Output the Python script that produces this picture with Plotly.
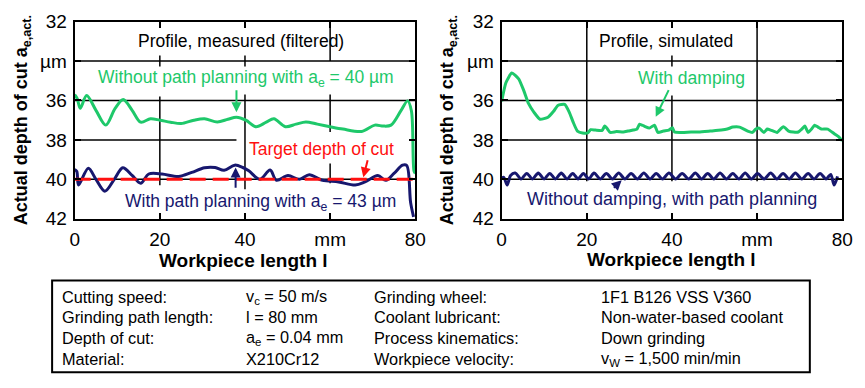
import plotly.graph_objects as go

# ---------------- data ----------------
meas_green_x = [0, 0.6, 1.3, 2.8, 5, 7.3, 9.5, 11.4, 13.5, 15.5, 17.8, 20, 22.5, 25, 28, 30.5, 33.5, 36,
                38, 40.2, 42.6, 45, 46.8, 49.5, 52, 54.3, 57, 60, 63, 67.4, 70.5, 72.5, 74.3, 76.6, 78.2,
                79.1, 79.7, 80]
meas_green_y = [35.7, 35.9, 36.4, 35.75, 36.5, 37.25, 36.4, 35.95, 36.5, 37.1, 36.93, 37.0, 37.1, 37.17,
                37.0, 36.93, 37.09, 36.95, 36.85, 37.0, 37.33, 37.1, 36.93, 37.33, 37.2, 37.09, 37.2,
                37.33, 37.45, 37.57, 37.25, 37.3, 37.25, 36.53, 36.02, 36.53, 39.57, 39.7]

meas_navy_x = [0, 0.5, 0.9, 3.2, 5, 7.1, 9.3, 11.3, 13.5, 15.5, 17.4, 20.5, 24.4, 27.5, 30.5, 33, 35.1,
               37.6, 39.5, 40.9, 43.5, 45.9, 47.4, 50.1, 52.8, 55.1, 58.2, 62, 65.9, 68.2, 71.2, 73.1,
               75, 77.0, 78.0, 78.9, 79.6]
meas_navy_y = [39.5, 39.6, 40.29, 39.44, 40.0, 40.6, 40.0, 39.41, 39.8, 40.2, 39.73, 39.73, 39.86, 39.65,
               39.41, 39.4, 39.54, 39.28, 39.4, 39.57, 40.0, 39.53, 40.05, 39.81, 40.0, 39.77, 40.05,
               40.13, 40.29, 40.13, 39.81, 40.05, 39.7, 39.28, 39.3, 41.17, 41.9]

target_x = [0, 80]
target_y = [40, 40]

sim_green_x = [0, 1.0, 2.4, 4.0, 5.2, 6.3, 7.6, 9.0, 10.9, 12.2, 13.2, 14.8, 15.9, 16.8, 17.8, 19.0,
               20.2, 20.9, 22.0, 23.6, 24.2, 24.7, 25.5, 27.0, 28.6, 29.7, 30.9, 31.8, 32.4, 33.5,
               34.7, 35.9, 36.7, 38.0, 39.3, 40.1, 40.6, 42.4, 44.5, 46.3, 49.0, 51.6, 53.0, 54.3,
               55.9, 57.8, 58.9, 59.7, 60.5, 61.6, 62.4, 63.2, 64.7, 65.5, 66.2, 67.4, 68.5, 69.7,
               70.5, 71.2, 72.0, 72.8, 73.5, 74.3, 75.1, 76.6, 78.2, 79.2, 80]
sim_green_y = [36.05, 35.1, 34.6, 34.9, 35.5, 36.15, 36.6, 36.95, 36.85, 36.55, 36.25, 36.2, 36.6,
               37.1, 37.55, 37.65, 37.65, 37.48, 37.5, 37.52, 37.3, 37.4, 37.62, 37.58, 37.6, 37.55,
               37.5, 37.45, 37.2, 37.3, 37.4, 37.25, 37.62, 37.55, 37.5, 37.38, 37.6, 37.62, 37.6,
               37.6, 37.55, 37.5, 37.45, 37.35, 37.35, 37.55, 37.62, 37.45, 37.4, 37.62, 37.45, 37.5,
               37.62, 37.45, 37.33, 37.55, 37.6, 37.6, 37.45, 37.3, 37.62, 37.45, 37.25, 37.35, 37.45,
               37.45, 37.7, 37.85, 38.05]

sim_navy_x = [0, 0.5, 1.3, 2.1,
              3.2, 4.55, 5.9, 7.25, 8.6, 9.95, 11.3, 12.65, 14.0, 15.35,
              16.7, 17.95, 19.2, 20.45, 21.7, 23.15, 24.6, 26.05, 27.5, 28.95,
              30.4, 31.9, 33.4, 34.85, 36.3, 37.8, 39.3, 40.85, 42.4, 43.95,
              45.5, 46.95, 48.4, 49.85, 51.3, 52.8, 54.3, 55.75, 57.2, 58.65,
              60.1, 61.65, 63.2, 64.65, 66.1, 67.55, 69.0, 70.5, 72.0, 73.4,
              74.8, 76.2, 77.3, 78.1, 78.9]
sim_navy_y = [39.95, 39.9, 40.29, 39.8,
              39.68, 39.98, 39.7, 39.98, 39.68, 39.98, 39.7, 39.98, 39.68, 39.98,
              39.7, 39.98, 39.7, 39.98, 39.68, 39.98, 39.7, 39.98, 39.68, 39.98,
              39.7, 39.98, 39.68, 39.98, 39.7, 39.98, 39.68, 39.98, 39.7, 39.98,
              39.68, 39.98, 39.7, 39.98, 39.68, 39.98, 39.7, 39.98, 39.68, 39.98,
              39.7, 39.98, 39.68, 39.98, 39.7, 39.98, 39.68, 39.98, 39.7, 39.98,
              39.7, 39.98, 39.75, 40.29, 39.85]

y_tickvals = [32, 34, 36, 38, 40, 42]
y_ticktext = ["32", "µm", "36", "38", "40", "42"]
x_tickvals = [0, 20, 40, 60, 80]
x_ticktext = ["0", "20", "40", "mm", "80"]

table_col1 = ["Cutting speed:", "Grinding path length:", "Depth of cut:", "Material:"]
table_col2 = ["v<sub>c</sub> = 50 m/s", "l = 80 mm", "a<sub>e</sub> = 0.04 mm", "X210Cr12"]
table_col3 = ["Grinding wheel:", "Coolant lubricant:", "Process kinematics:", "Workpiece velocity:"]
table_col4 = ["1F1 B126 VSS V360", "Non-water-based coolant", "Down grinding", "v<sub>W</sub> = 1,500 min/min"]

# ---------------- style ----------------
W, H = 865, 388
FONT = "Liberation Sans, Arial, sans-serif"
GREEN = "#1ec86a"
NAVY = "#17176e"
RED = "#ff1010"

def px_x(p):
    return p / W

def px_y(p):
    return 1 - p / H

fig = go.Figure()

fig.add_trace(go.Scatter(x=meas_green_x, y=meas_green_y, mode="lines", xaxis="x", yaxis="y",
                         line=dict(color=GREEN, width=3, shape="spline", smoothing=0.9), hoverinfo="skip"))
fig.add_trace(go.Scatter(x=meas_navy_x, y=meas_navy_y, mode="lines", xaxis="x", yaxis="y",
                         line=dict(color=NAVY, width=3, shape="spline", smoothing=0.9), hoverinfo="skip"))
fig.add_trace(go.Scatter(x=target_x, y=target_y, mode="lines", xaxis="x", yaxis="y",
                         line=dict(color=RED, width=3, dash="16px,7px"), hoverinfo="skip"))
fig.add_trace(go.Scatter(x=sim_green_x, y=sim_green_y, mode="lines", xaxis="x2", yaxis="y2",
                         line=dict(color=GREEN, width=3, shape="spline", smoothing=0.5), hoverinfo="skip"))
fig.add_trace(go.Scatter(x=sim_navy_x, y=sim_navy_y, mode="lines", xaxis="x2", yaxis="y2",
                         line=dict(color=NAVY, width=3, shape="spline", smoothing=0.8), hoverinfo="skip"))

ydom = [px_y(220.7), px_y(12.3)]
axis_common = dict(showline=True, mirror="ticks", linecolor="black", linewidth=2,
                   ticks="inside", ticklen=6, tickwidth=1.5, tickcolor="black",
                   showgrid=False, zeroline=False,
                   tickfont=dict(family=FONT, size=19, color="black"))

fig.update_layout(
    width=W, height=H, autosize=False,
    margin=dict(l=0, r=0, t=0, b=0),
    paper_bgcolor="white", plot_bgcolor="white",
    showlegend=False,
    xaxis=dict(domain=[px_x(71), px_x(418)], range=[0, 80], tickvals=x_tickvals, ticktext=x_ticktext,
               anchor="y", ticklabelstandoff=2, **axis_common),
    yaxis=dict(domain=ydom, range=[42, 32], tickvals=y_tickvals, ticktext=y_ticktext,
               anchor="x", ticklabelstandoff=2, **axis_common),
    xaxis2=dict(domain=[px_x(506), px_x(853)], range=[0, 80], tickvals=x_tickvals, ticktext=x_ticktext,
                anchor="y2", ticklabelstandoff=2, **axis_common),
    yaxis2=dict(domain=ydom, range=[42, 32], tickvals=y_tickvals, ticktext=y_ticktext,
                anchor="x2", ticklabelstandoff=2, **axis_common),
)

# grid segments (style only)
def seg(xr, yr, x0, x1, y0, y1, w=1.5):
    fig.add_shape(type="line", xref=xr, yref=yr, x0=x0, x1=x1, y0=y0, y1=y1,
                  line=dict(color="black", width=w), layer="below")

# left panel grid
for yy in [34, 36, 40]:
    seg("x", "y", 0, 80, yy, yy)
seg("x", "y", 0, 38, 38, 38)
seg("x", "y", 20, 20, 35.8, 40.3)
seg("x", "y", 40, 40, 35.7, 40.5)
seg("x", "y", 60, 60, 32, 34)
seg("x", "y", 60, 60, 35.7, 37.6)
seg("x", "y", 60, 60, 39.2, 40.2)
for xx in [20, 40]:
    seg("x", "y", xx, xx, 33.72, 34.28)
# right panel grid
for yy in [34, 36, 38, 40]:
    seg("x2", "y2", 0, 80, yy, yy)
seg("x2", "y2", 20, 20, 32, 40.1)
seg("x2", "y2", 40, 40, 35.75, 40.1)
seg("x2", "y2", 40, 40, 33.72, 34.28)
seg("x2", "y2", 60, 60, 32, 40.1)

TXT = 17.5

def label(xr, yr, x, y, text, color, size=TXT):
    fig.add_annotation(xref=xr, yref=yr, x=x, y=y, text=text, showarrow=False,
                       font=dict(family=FONT, size=size, color=color), xanchor="center", yanchor="middle")

def arrow(xr, yr, x_tail, y_tail, x_head, y_head, color):
    fig.add_annotation(xref=xr, yref=yr, axref=xr, ayref=yr, x=x_head, y=y_head, ax=x_tail, ay=y_tail,
                       text="", showarrow=True, arrowhead=2, arrowsize=1, arrowwidth=2, arrowcolor=color)

label("x", "y", 39, 33.0, "Profile, measured (filtered)", "black")
label("x", "y", 40.3, 34.9, "Without path planning with a<sub>e</sub> = 40 µm", GREEN)
arrow("x", "y", 38.0, 35.4, 38.0, 36.6, GREEN)
label("x", "y", 57.9, 38.46, "Target depth of cut", RED)
arrow("x", "y", 68.9, 38.95, 67.8, 39.9, RED)
label("x", "y", 43.6, 41.15, "With path planning with a<sub>e</sub> = 43 µm", NAVY)
arrow("x", "y", 37.8, 40.5, 37.8, 39.4, NAVY)

label("x2", "y2", 38.5, 33.0, "Profile, simulated", "black")
label("x2", "y2", 44.5, 34.85, "With damping", GREEN)
arrow("x2", "y2", 39.4, 35.4, 36.2, 36.83, GREEN)
label("x2", "y2", 40.0, 41.0, "Without damping, with path planning", NAVY, 18)
arrow("x2", "y2", 26.0, 40.5, 28.2, 40.05, NAVY)

# axis titles
for xc in [18, 452]:
    fig.add_annotation(xref="paper", yref="paper", x=px_x(xc), y=px_y(117), textangle=-90,
                       text="<b>Actual depth of cut a<sub>e,act.</sub></b>", showarrow=False,
                       font=dict(family=FONT, size=18, color="black"), xanchor="center", yanchor="middle")
for xc, yc in [(243, 265), (679, 264)]:
    fig.add_annotation(xref="paper", yref="paper", x=px_x(xc), y=px_y(yc),
                       text="<b>Workpiece length l</b>", showarrow=False,
                       font=dict(family=FONT, size=19, color="black"), xanchor="center", yanchor="middle")

# parameter table
fig.add_shape(type="rect", xref="paper", yref="paper", x0=px_x(48), x1=px_x(820), y0=px_y(383), y1=px_y(286),
              line=dict(color="black", width=2), fillcolor="rgba(0,0,0,0)")
col_x = [56, 244, 374, 605]
row_y = [303, 325, 347, 369]
for cx, col in zip(col_x, [table_col1, table_col2, table_col3, table_col4]):
    for ry, t in zip(row_y, col):
        fig.add_annotation(xref="paper", yref="paper", x=px_x(cx), y=px_y(ry), text=t, showarrow=False,
                           font=dict(family=FONT, size=16.3, color="black"), xanchor="left", yanchor="middle")

fig.write_html("out.html")
